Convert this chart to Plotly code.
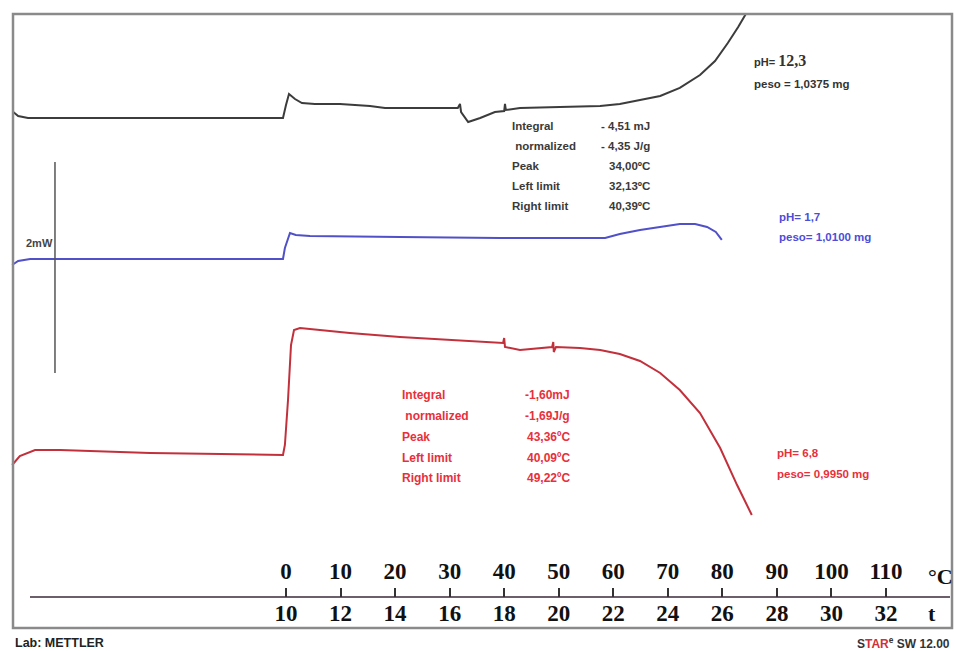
import plotly.graph_objects as go

W, H = 955, 651

# ---------------- data ----------------
# temperature axis ticks (°C) and matching time ticks (min)
temp_ticks = [0, 10, 20, 30, 40, 50, 60, 70, 80, 90, 100, 110]
time_ticks = [10, 12, 14, 16, 18, 20, 22, 24, 26, 28, 30, 32]

# DSC curves: temperature (°C) vs heat flow (mW, curves offset)
black_T = [-50.0, -49.1, -47.3, -24.9, -0.55, 0.0, 0.55, 1.65, 2.93, 5.3, 9.9, 15.4,
           18.15, 31.5, 31.9, 32.1, 33.4, 35.6, 38.3, 40.0, 40.15, 40.3, 42.9, 50.2,
           57.6, 61.2, 64.9, 68.6, 72.2, 75.9, 78.65, 81.0, 82.9, 84.3]
black_mW = [5.109, 5.071, 5.052, 5.052, 5.052, 5.175, 5.280, 5.232, 5.194, 5.185, 5.185, 5.166,
            5.147, 5.147, 5.185, 5.109, 5.014, 5.052, 5.109, 5.118, 5.185, 5.128, 5.147, 5.156,
            5.166, 5.185, 5.223, 5.261, 5.337, 5.460, 5.592, 5.763, 5.914, 6.038]

blue_T = [-50.2, -49.1, -46.9, -0.55, -0.2, 0.73, 1.8, 4.4, 20.9, 39.2, 58.5, 61.2,
          64.9, 68.6, 72.2, 75.0, 77.2, 78.8, 79.9]
blue_mW = [3.659, 3.697, 3.716, 3.716, 3.820, 3.962, 3.943, 3.934, 3.924, 3.915, 3.915, 3.953,
           3.991, 4.019, 4.047, 4.047, 4.019, 3.972, 3.896]

red_T = [-50.2, -48.8, -46.0, -41.4, -24.9, -0.55, -0.2, 0.37, 0.92, 1.47, 2.57, 11.7,
         20.9, 30.1, 39.8, 40.0, 40.15, 42.9, 46.6, 48.8, 49.0, 49.1, 49.5, 53.9,
         57.6, 61.2, 64.9, 68.6, 72.2, 75.9, 79.6, 82.7, 85.4]
red_mW = [1.763, 1.848, 1.905, 1.905, 1.877, 1.858, 1.953, 2.379, 2.900, 3.043, 3.062, 3.014,
          2.976, 2.948, 2.919, 2.967, 2.882, 2.853, 2.872, 2.882, 2.929, 2.834, 2.882, 2.872,
          2.853, 2.815, 2.749, 2.635, 2.474, 2.256, 1.924, 1.573, 1.289]

scale_mW = 2  # scale bar height

black_labels = ["Integral", " normalized", "Peak", "Left limit", "Right limit"]
black_values = ["- 4,51 mJ", "- 4,35 J/g", "34,00ºC", "32,13ºC", "40,39ºC"]
red_labels = ["Integral", " normalized", "Peak", "Left limit", "Right limit"]
red_values = ["-1,60mJ", "-1,69J/g", "43,36ºC", "40,09ºC", "49,22ºC"]

# ---------------- layout helpers ----------------
def px(x):
    return x / W

def py(y):
    return 1 - y / H

XRANGE = [-52.43, 122.65]
YRANGE = [0, 6.1706]

BLACK_C = "#3c3c3c"
BLUE_C = "#5050c8"
RED_C = "#c2303c"
BLUE_T = "#4d4dd6"
RED_T = "#e8303c"

fig = go.Figure()
fig.add_trace(go.Scatter(x=black_T, y=black_mW, mode="lines",
                         line=dict(color=BLACK_C, width=2), hoverinfo="skip", showlegend=False))
fig.add_trace(go.Scatter(x=blue_T, y=blue_mW, mode="lines",
                         line=dict(color=BLUE_C, width=2), hoverinfo="skip", showlegend=False))
fig.add_trace(go.Scatter(x=red_T, y=red_mW, mode="lines",
                         line=dict(color=RED_C, width=2), hoverinfo="skip", showlegend=False))
# dummy trace to activate the top (°C) axis
fig.add_trace(go.Scatter(x=[0], y=[0], xaxis="x2", mode="markers", opacity=0,
                         hoverinfo="skip", showlegend=False))

ann = []
def txt(x, y, s, color="#333", size=12, anchor="left", weight="bold", family="Liberation Sans"):
    ann.append(dict(x=px(x), y=py(y), xref="paper", yref="paper", text=s, showarrow=False,
                    xanchor=anchor, yanchor="middle",
                    font=dict(family=family, size=size, color=color, weight=weight)))

# black annotations
txt(752, 60, "pH= <span style='font-family:Liberation Serif;font-size:16px'>12,3</span>", color="#333", size=11)
txt(752, 84, "peso = 1,0375 mg", color="#333", size=11.5)
rows_b = [126, 146, 166, 186, 206]
for lab, val, yy in zip(black_labels, black_values, rows_b):
    txt(510, yy, lab, color="#3a3a3a", size=11.5)
    txt(652, yy, val, color="#3a3a3a", size=11.5, anchor="right")

# blue annotations
txt(777, 217, "pH= 1,7", color=BLUE_T, size=11.5)
txt(777, 237, "peso= 1,0100 mg", color=BLUE_T, size=11.5)

# red annotations
rows_r = [395, 416, 437, 458, 478]
for lab, val, yy in zip(red_labels, red_values, rows_r):
    txt(400, yy, lab, color=RED_T, size=12)
    txt(572, yy, val, color=RED_T, size=12, anchor="right")
txt(775, 453, "pH= 6,8", color=RED_T, size=11.5)
txt(775, 474, "peso= 0,9950 mg", color=RED_T, size=11.5)

# scale bar label
txt(55, 243, "2mW", color="#444", size=11, anchor="right")

# axis units
txt(940, 576, "°C", color="#111", size=22, anchor="center", family="Liberation Serif")
txt(932, 613, "t", color="#111", size=22, anchor="center", family="Liberation Serif")

# footer
txt(13, 643, "Lab: METTLER", color="#222", size=12.5)
txt(952, 643, "S<span style='color:#d0303a'>TAR</span><sup>e</sup> SW 12.00", color="#333", size=12, anchor="right")

shapes = [
    # outer frame
    dict(type="rect", xref="paper", yref="paper", x0=px(13), x1=px(952), y0=py(628), y1=py(14),
         line=dict(color="#8a8a8a", width=2.5)),
    # axis baseline
    dict(type="line", xref="paper", yref="paper", x0=px(30), x1=px(950), y0=py(597), y1=py(597),
         line=dict(color="#3a2a3a", width=1.5)),
    # 2 mW scale bar
    dict(type="line", xref="x", yref="y", x0=-42.35, x1=-42.35, y0=2.635, y1=2.635 + scale_mW,
         line=dict(color="#555", width=1.5)),
]

tickfont_top = dict(family="Liberation Serif", size=23, color="#111", weight="bold")
tickfont_bot = dict(family="Liberation Serif", size=23, color="#111", weight="bold")
fig.update_layout(
    width=W, height=H,
    margin=dict(l=0, r=0, t=0, b=0),
    paper_bgcolor="white", plot_bgcolor="white",
    showlegend=False,
    xaxis=dict(range=XRANGE, domain=[0, 1], anchor="free", position=54 / H,
               showgrid=False, zeroline=False, showline=False,
               tickmode="array", tickvals=temp_ticks, ticktext=[str(t) for t in time_ticks],
               ticks="", tickfont=tickfont_bot),
    xaxis2=dict(range=XRANGE, overlaying="x", side="top", anchor="free", position=54 / H,
                showgrid=False, zeroline=False, showline=False,
                tickmode="array", tickvals=temp_ticks, ticktext=[str(t) for t in temp_ticks],
                ticks="outside", ticklen=9, tickwidth=1.5, tickcolor="#333",
                tickfont=tickfont_top),
    yaxis=dict(range=YRANGE, domain=[0, 1], visible=False, showgrid=False, zeroline=False),
    annotations=ann,
    shapes=shapes,
)

fig.write_html("out.html", config={"displayModeBar": False},
               post_script="document.body.style.margin='0px';document.body.style.overflow='hidden';")
